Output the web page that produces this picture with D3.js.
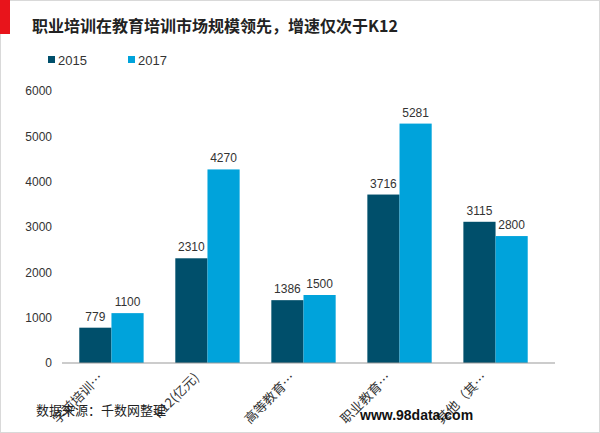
<!DOCTYPE html>
<html><head><meta charset="utf-8">
<script src="https://cdn.jsdelivr.net/npm/d3@7"></script>
<style>body{margin:0;background:#fff}svg{display:block;font-family:"Noto Sans CJK SC","Noto Sans",sans-serif}</style>
</head><body><div id="chart"></div>
<script>
const categories = ["学前培训…", "K12(亿元)", "高等教育…", "职业教育…", "其他（其…"];
const series = ["2015", "2017"];
const values2015 = [779, 2310, 1386, 3716, 3115];
const values2017 = [1100, 4270, 1500, 5281, 2800];
const yTicks = [0, 1000, 2000, 3000, 4000, 5000, 6000];
const colors = ["#004f6b", "#00a3db"];

const W = 600, H = 433;
const svg = d3.select("#chart").append("svg").attr("width", W).attr("height", H);
svg.append("rect").attr("x", 0.5).attr("y", 0.5).attr("width", W - 1).attr("height", H - 1)
  .attr("fill", "#fff").attr("stroke", "#d9d9d9");
svg.append("rect").attr("x", 0).attr("y", 0).attr("width", 10).attr("height", 34).attr("fill", "#e8141b");
svg.append("text").attr("x", 32).attr("y", 32).attr("font-size", 16).attr("font-weight", 700)
  .attr("fill", "#222").text("职业培训在教育培训市场规模领先，增速仅次于K12");

// legend
series.forEach((s, i) => {
  const lx = 48 + i * 80;
  svg.append("rect").attr("x", lx).attr("y", 56).attr("width", 7).attr("height", 7).attr("fill", colors[i]);
  svg.append("text").attr("x", lx + 10).attr("y", 65).attr("font-size", 13).attr("fill", "#333")
    .attr("font-family", "Liberation Sans, Arial, sans-serif").text(s);
});

const x = d3.scaleBand().domain(categories).range([62, 545]).paddingInner(0.33).paddingOuter(0.18);
const xs = d3.scaleBand().domain(series).range([0, x.bandwidth()]);
const y = d3.scaleLinear().domain([0, 6000]).range([363, 91]);

const yAxis = svg.append("g").attr("transform", "translate(52,0)")
  .call(d3.axisLeft(y).tickValues(yTicks).tickFormat(d3.format("d")).tickSize(0).tickPadding(0));
yAxis.attr("font-family", "Liberation Sans, Arial, sans-serif");
yAxis.select(".domain").remove();
yAxis.selectAll("text").attr("font-size", 12).attr("fill", "#333");

const data = categories.map((c, i) => ({ c, v: [values2015[i], values2017[i]] }));
const g = svg.append("g").selectAll("g").data(data).join("g")
  .attr("transform", d => `translate(${x(d.c)},0)`);
g.selectAll("rect").data(d => d.v.map((v, i) => ({ s: series[i], v, i }))).join("rect")
  .attr("x", d => xs(d.s)).attr("width", xs.bandwidth())
  .attr("y", d => y(d.v)).attr("height", d => y(0) - y(d.v)).attr("fill", d => colors[d.i]);
g.selectAll("text").data(d => d.v.map((v, i) => ({ s: series[i], v }))).join("text")
  .attr("x", d => xs(d.s) + xs.bandwidth() / 2).attr("y", d => y(d.v) - 7)
  .attr("text-anchor", "middle").attr("font-size", 12).attr("fill", "#333")
  .attr("font-family", "Liberation Sans, Arial, sans-serif").text(d => d.v);

svg.append("line").attr("x1", 62).attr("x2", 555).attr("y1", y(0)).attr("y2", y(0))
  .attr("stroke", "#999").attr("stroke-width", 1);

svg.append("g").selectAll("text").data(categories).join("text")
  .attr("transform", d => `translate(${x(d) + x.bandwidth() / 2 - 14},372) rotate(-45)`)
  .attr("text-anchor", "end").attr("dy", "0.7em").attr("font-size", 13).attr("fill", "#333").text(d => d);

svg.append("text").attr("x", 36).attr("y", 415).attr("font-size", 13).attr("fill", "#222").text("数据来源：千数网整理");
svg.append("text").attr("x", 360).attr("y", 420).attr("font-size", 14).attr("font-weight", 700)
  .attr("font-family", "Liberation Sans, Arial, sans-serif").attr("fill", "#111").text("www.98data.com");
</script></body></html>
